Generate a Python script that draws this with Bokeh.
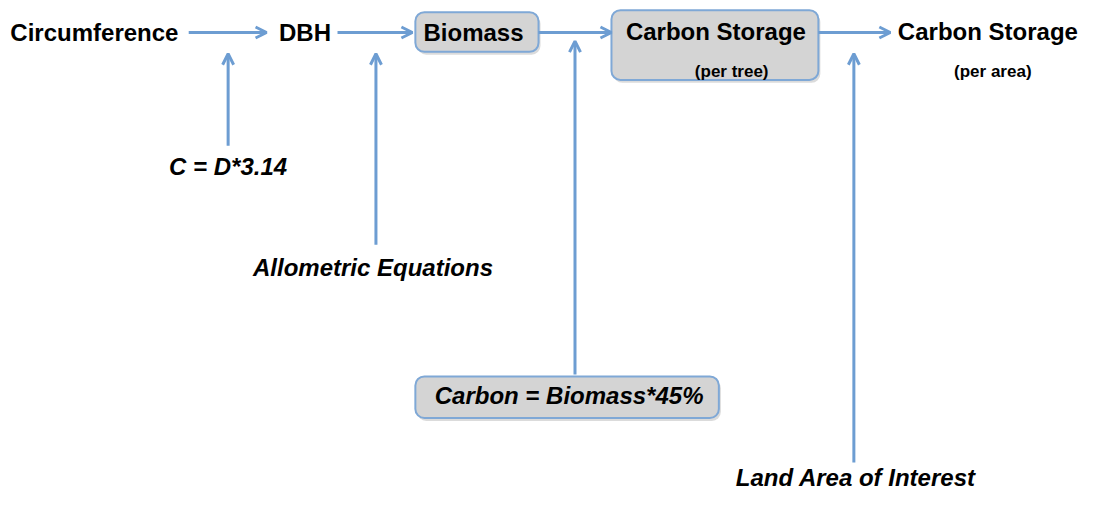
from bokeh.plotting import figure
from bokeh.models import Range1d, Arrow, OpenHead, ColumnDataSource
from bokeh.core.properties import value
from bokeh.embed import file_html
from bokeh.resources import INLINE

# ---- content ----
main_labels = ["Circumference", "DBH", "Biomass", "Carbon Storage", "Carbon Storage"]
sub_labels = ["(per tree)", "(per area)"]
input_labels = ["C = D*3.14", "Allometric Equations", "Carbon = Biomass*45%", "Land Area of Interest"]

# ---- layout (screen-like coordinates, y grows downward) ----
main_x = [10, 309, 480, 726, 1002]
main_align = ["left", "center", "center", "center", "center"]
main_y = [33, 33, 33, 32, 32]
sub_x = [742, 1007]
sub_y = [73, 73]
input_x = [231, 378, 577, 868]
input_y = [171, 276, 408, 492]

flow_arrows = [(191, 270), (342, 418), (546, 620), (830, 903)]
flow_y = 33
input_arrows = [(231, 150, 55), (381, 252, 55), (583, 386, 42), (866, 477, 55)]

boxes = [(421, 546, 12, 53), (620, 830, 10, 82), (421, 729, 388, 431)]

BLUE = "#6d9dd2"
EDGE = "#7fa8d6"
FILL = "#d4d4d4"

p = figure(width=1081, height=496, output_backend="svg", toolbar_location=None,
           x_range=Range1d(0, 1097), y_range=Range1d(512, 0),
           min_border=0)
p.axis.visible = False
p.grid.visible = False
p.outline_line_color = None
p.background_fill_color = "white"
p.border_fill_color = "white"

# boxes with shadow
bsrc = ColumnDataSource(dict(l=[b[0] for b in boxes], r=[b[1] for b in boxes],
                             t=[b[2] for b in boxes], b=[b[3] for b in boxes]))
shadow = ColumnDataSource(dict(l=[b[0] + 2 for b in boxes], r=[b[1] + 2 for b in boxes],
                               t=[b[2] + 3 for b in boxes], b=[b[3] + 3 for b in boxes]))
p.quad(left="l", right="r", top="t", bottom="b", source=shadow, fill_color="#b8b8b8",
       fill_alpha=0.5, line_color=None, border_radius=9)
p.quad(left="l", right="r", top="t", bottom="b", source=bsrc, fill_color=FILL,
       line_color=EDGE, line_width=2, border_radius=9)

# arrows
for x0, x1 in flow_arrows:
    p.add_layout(Arrow(end=OpenHead(size=11, line_color=BLUE, line_width=3),
                       x_start=x0, y_start=flow_y, x_end=x1, y_end=flow_y,
                       line_color=BLUE, line_width=3))
for x, y0, y1 in input_arrows:
    p.add_layout(Arrow(end=OpenHead(size=11, line_color=BLUE, line_width=3),
                       x_start=x, y_start=y0, x_end=x, y_end=y1,
                       line_color=BLUE, line_width=3))

font = value("Liberation Sans")
p.text(x=main_x, y=main_y, text=main_labels, text_align=main_align, text_baseline="middle",
       text_font=font, text_font_style="bold", text_font_size="24px", text_color="black")
p.text(x=sub_x, y=sub_y, text=sub_labels, text_align="center", text_baseline="middle",
       text_font=font, text_font_style="bold", text_font_size="17px", text_color="black")
p.text(x=input_x, y=input_y, text=input_labels, text_align="center", text_baseline="middle",
       text_font=font, text_font_style="bold italic", text_font_size="24px", text_color="black")

open("out.html", "w").write(file_html(p, INLINE))
